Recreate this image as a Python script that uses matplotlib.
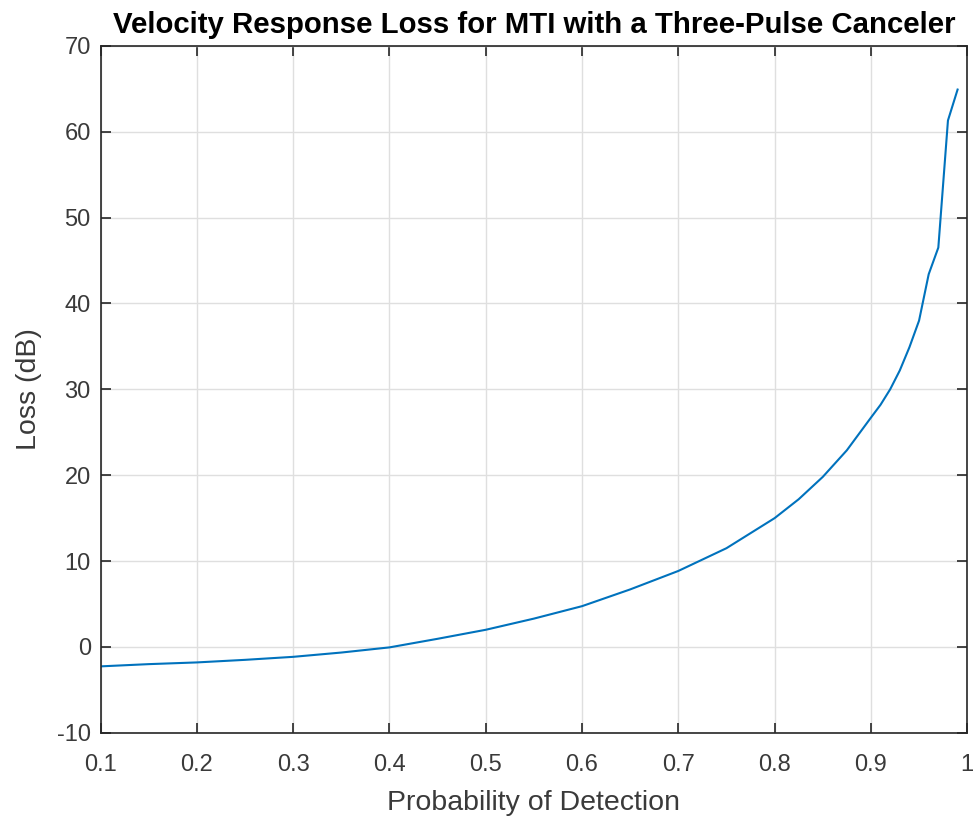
import numpy as np
import matplotlib.pyplot as plt

# probability of detection and the loss
pd_vals = [0.10, 0.15, 0.20, 0.25, 0.30, 0.35, 0.40, 0.45, 0.50, 0.55,
           0.60, 0.65, 0.70, 0.75, 0.80, 0.825, 0.85, 0.875, 0.90, 0.91,
           0.92, 0.93, 0.94, 0.95, 0.96, 0.97, 0.98, 0.99]
loss_db = [-2.26, -2.0, -1.8, -1.5, -1.15, -0.65, -0.05, 0.95, 2.0, 3.3,
           4.75, 6.7, 8.85, 11.5, 15.0, 17.2, 19.8, 22.9, 26.7, 28.2,
           30.0, 32.2, 34.9, 38.0, 43.4, 46.5, 61.3, 64.9]

xticks = [0.1, 0.2, 0.3, 0.4, 0.5, 0.6, 0.7, 0.8, 0.9, 1.0]
xticklabels = ['0.1', '0.2', '0.3', '0.4', '0.5', '0.6', '0.7', '0.8', '0.9', '1']
yticks = [-10, 0, 10, 20, 30, 40, 50, 60, 70]

plt.rcParams['font.family'] = ['Liberation Sans', 'DejaVu Sans']
plt.rcParams['axes.unicode_minus'] = False
txt = '#3a3a3a'

fig = plt.figure(figsize=(9.76, 8.17), dpi=100)
ax = fig.add_axes([0.103, 0.103, 0.888, 0.841])

ax.plot(pd_vals, loss_db, color='#0072BD', lw=1.5)

ax.set_xlim(0.1, 1.0)
ax.set_ylim(-10, 70)
ax.set_xticks(xticks)
ax.set_xticklabels(xticklabels)
ax.set_yticks(yticks)
ax.grid(True, color='#dfdfdf', lw=1.0)
ax.set_axisbelow(True)

for s in ax.spines.values():
    s.set_color('#262626')
    s.set_linewidth(1.2)
ax.tick_params(direction='in', top=True, right=True, length=7, width=1.2,
               colors='#262626', labelcolor=txt, labelsize=17, pad=7)
ax.tick_params(axis='x', pad=15)

ax.set_xlabel('Probability of Detection', fontsize=20.5, color=txt, labelpad=10)
ax.set_ylabel('Loss (dB)', fontsize=20.5, color=txt, labelpad=11)
ax.set_title('Velocity Response Loss for MTI with a Three-Pulse Canceler',
             fontsize=21.2, fontweight='bold', color='black', pad=9)

fig.savefig('out.png', dpi=100)
